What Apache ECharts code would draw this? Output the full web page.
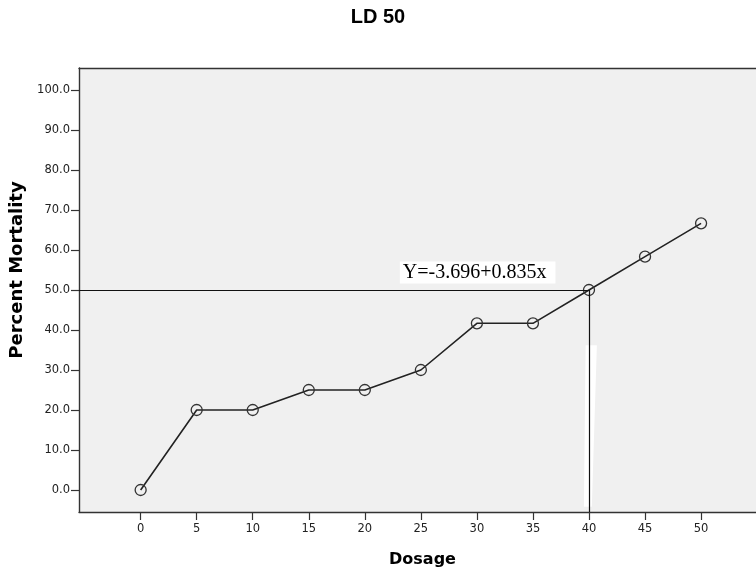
<!DOCTYPE html>
<html>
<head>
<meta charset="utf-8">
<script src="https://cdn.jsdelivr.net/npm/echarts@6/dist/echarts.min.js"></script>
<style>
  html, body { margin: 0; padding: 0; background: #fff; }
  #chart { width: 756px; height: 573px; }
</style>
</head>
<body>
<div id="chart"></div>
<script>
// Dose-response observations
const dosage = [0, 5, 10, 15, 20, 25, 30, 35, 40, 45, 50];
const mortality = [0, 20, 20, 25, 25, 30, 41.67, 41.67, 50, 58.33, 66.67];

// Tick values shown on each axis
const xTicks = [0, 5, 10, 15, 20, 25, 30, 35, 40, 45, 50];
const yTicks = [0, 10, 20, 30, 40, 50, 60, 70, 80, 90, 100];

// LD50 reading and fitted equation
const ld50Dose = 40;
const ld50Pct = 50;
const equation = 'Y=-3.696+0.835x';

// Axis extents (plot frame runs a little past the outer ticks)
const xRange = [-5.5, 54.9];
const yRange = [-5.5, 105.5];

const chart = echarts.init(document.getElementById('chart'), null, { renderer: 'canvas' });

const SANS = '"DejaVu Sans", Verdana, sans-serif';
const TITLE_FONT = '"Liberation Sans", Arial, sans-serif';
const INK = '#222';
const FRAME = '#333';

const option = {
  animation: false,
  backgroundColor: '#fff',
  title: {
    text: 'LD 50',
    left: 'center',
    top: 2,
    textStyle: { fontFamily: TITLE_FONT, fontWeight: 'bold', fontSize: 20, color: '#000' }
  },
  grid: {
    left: 79,
    top: 68,
    right: 0,
    height: 444,
    show: true,
    backgroundColor: '#f0f0f0',
    borderWidth: 0
  },
  xAxis: [
    {
      type: 'value',
      min: xRange[0],
      max: xRange[1],
      name: 'Dosage',
      nameLocation: 'middle',
      nameGap: 40,
      nameTextStyle: { fontFamily: SANS, fontWeight: 'bold', fontSize: 16, color: '#000', padding: [0, 0, 0, 10] },
      axisLine: { show: true, onZero: false, lineStyle: { color: FRAME, width: 1.4 } },
      axisTick: { show: true, customValues: xTicks, length: 8, lineStyle: { color: FRAME, width: 1.2 } },
      axisLabel: { customValues: xTicks, margin: 11, fontFamily: SANS, fontSize: 11.5, color: INK },
      splitLine: { show: false }
    },
    {
      // upper edge of the plot frame
      type: 'value',
      position: 'top',
      min: xRange[0],
      max: xRange[1],
      axisLine: { show: true, onZero: false, lineStyle: { color: FRAME, width: 1.4 } },
      axisTick: { show: false },
      axisLabel: { show: false },
      splitLine: { show: false }
    }
  ],
  yAxis: {
    type: 'value',
    min: yRange[0],
    max: yRange[1],
    name: 'Percent Mortality',
    nameLocation: 'middle',
    nameGap: 47,
    nameTextStyle: { fontFamily: SANS, fontWeight: 'bold', fontSize: 18, color: '#000', padding: [0, 0, 0, 40] },
    axisLine: { show: true, onZero: false, lineStyle: { color: FRAME, width: 1.4 } },
    axisTick: { show: true, customValues: yTicks, length: 8, lineStyle: { color: FRAME, width: 1.2 } },
    axisLabel: {
      customValues: yTicks,
      margin: 9,
      fontFamily: SANS,
      fontSize: 11.5,
      color: INK,
      formatter: v => v.toFixed(1)
    },
    splitLine: { show: false }
  },
  series: [
    {
      // pale streak crossing the lower part of the drop line
      type: 'custom',
      z: 1,
      silent: true,
      data: [[0]],
      renderItem: (params, api) => {
        const pts = [[39.7, 36.2], [40.7, 36.2], [40.25, -4.2], [39.55, -4.2]].map(p => api.coord(p));
        return { type: 'polygon', shape: { points: pts }, style: { fill: '#ffffff' } };
      }
    },
    {
      type: 'line',
      z: 3,
      data: dosage.map((d, i) => [d, mortality[i]]),
      symbol: 'circle',
      symbolSize: 11,
      lineStyle: { color: INK, width: 1.6 },
      itemStyle: { color: 'transparent', borderColor: '#333', borderWidth: 1.3 },
      markLine: {
        silent: true,
        symbol: 'none',
        label: { show: false },
        lineStyle: { color: '#111', width: 1.2, type: 'solid' },
        data: [
          [{ coord: [xRange[0], ld50Pct] }, { coord: [ld50Dose, ld50Pct] }],
          [{ coord: [ld50Dose, ld50Pct] }, { coord: [ld50Dose, yRange[0]] }]
        ]
      },
      markPoint: {
        silent: true,
        symbol: 'circle',
        symbolSize: 1,
        itemStyle: { color: 'transparent' },
        label: {
          show: true,
          formatter: equation,
          position: [-33, -6],
          align: 'right',
          verticalAlign: 'bottom',
          backgroundColor: '#fff',
          padding: [1, 9, 1, 3],
          fontFamily: '"Liberation Serif", "Times New Roman", serif',
          fontSize: 20,
          color: '#000'
        },
        data: [{ coord: [ld50Dose, ld50Pct] }]
      }
    }
  ]
};

chart.setOption(option);
</script>
</body>
</html>
